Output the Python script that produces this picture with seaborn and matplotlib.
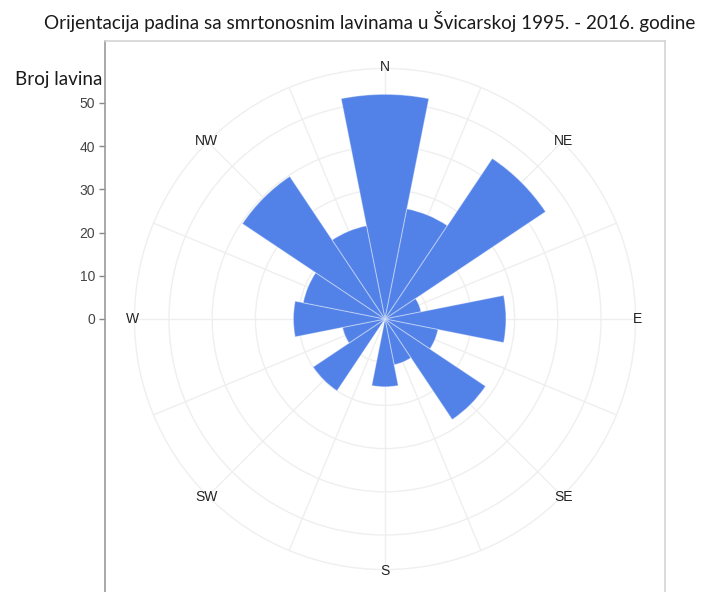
import numpy as np
import pandas as pd
import seaborn as sns
import matplotlib.pyplot as plt

# broj lavina po orijentaciji padine (16 smjerova, od N u smjeru kazaljke)
smjerovi = ["N", "NNE", "NE", "ENE", "E", "ESE", "SE", "SSE",
            "S", "SSW", "SW", "WSW", "W", "WNW", "NW", "NNW"]
kutevi = [0, 22.5, 45, 67.5, 90, 112.5, 135, 157.5,
          180, 202.5, 225, 247.5, 270, 292.5, 315, 337.5]
broj = [52, 26, 44.7, 8.5, 28, 12.5, 28, 10.8,
        15.7, 0, 20, 10, 21.2, 19.3, 39.7, 22]
oznake = ["N", "NE", "E", "SE", "S", "SW", "W", "NW"]
oznake_kut = [0, 45, 90, 135, 180, 225, 270, 315]
y_ticks = [0, 10, 20, 30, 40, 50]

df = pd.DataFrame({"smjer": smjerovi, "theta": np.deg2rad(kutevi), "broj": broj})

sns.set_style("white")
plt.rcParams['font.family'] = ['Liberation Sans', 'DejaVu Sans']

W, H = 702, 592
fig = plt.figure(figsize=(W / 100, H / 100), dpi=100)

cx, cy = 385, 319          # centre of the rose (px from top-left)
ppu = 4.32                 # px per unit
rmax = 58
R = rmax * ppu

# frame with the left value axis
top_px, bot_px = 41, 600
fr = fig.add_axes([105 / W, (H - bot_px) / H, 560 / W, (bot_px - top_px) / H], zorder=0)
fr.set_ylim((cy - bot_px) / ppu, (cy - top_px) / ppu)
fr.set_xlim(0, 1)
fr.set_xticks([])
fr.set_yticks(y_ticks)
fr.tick_params(axis="y", length=4, width=1, color="#888888", pad=3,
               labelsize=10, labelcolor="#444444", left=True)
for s in ["top", "right"]:
    fr.spines[s].set_color("#d4d4d4")
    fr.spines[s].set_linewidth(1.2)
fr.spines["left"].set_color("#9a9a9a")
fr.spines["left"].set_linewidth(1.2)
fr.spines["bottom"].set_visible(False)

# polar rose
ax = fig.add_axes([(cx - R) / W, (H - cy - R) / H, 2 * R / W, 2 * R / H],
                  projection="polar", zorder=1)
ax.patch.set_alpha(0)
sns.barplot(data=df, x="theta", y="broj", native_scale=True, width=1.0,
            color="#5282e8", saturation=1, errorbar=None,
            edgecolor=(1, 1, 1, 0.35), linewidth=0.8, ax=ax)
ax.set_theta_zero_location("N")
ax.set_theta_direction(-1)
ax.set_xlim(0, 2 * np.pi)
ax.set_ylim(0, rmax)
ax.set_xticks(np.deg2rad(kutevi))
ax.set_xticklabels([])
ax.set_yticks([10, 20, 30, 40, 50])
ax.set_yticklabels([])
ax.set_xlabel("")
ax.set_ylabel("")
ax.set_axisbelow(True)
ax.grid(True, color="#efefef", linewidth=1)
ax.spines["polar"].set_color("#efefef")
ax.spines["polar"].set_linewidth(1)

for lab, k in zip(oznake, oznake_kut):
    ax.text(np.deg2rad(k), 58.4, lab, ha="center", va="center",
            fontsize=10, color="#222222", clip_on=False)

fig.text(370 / W, 1 - 21 / H,
         "Orijentacija padina sa smrtonosnim lavinama u Švicarskoj 1995. - 2016. godine",
         ha="center", va="center", fontsize=13.6, color="#1a1a1a", family=["Lato", "DejaVu Sans"])
fig.text(102 / W, 1 - 80 / H, "Broj lavina", ha="right", va="center",
         fontsize=13.6, color="#1a1a1a", family=["Lato", "DejaVu Sans"])

fig.savefig("out.png", dpi=100)
